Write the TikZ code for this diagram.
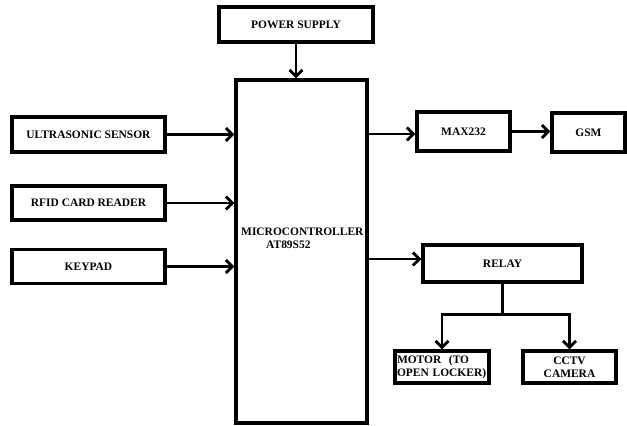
\documentclass[tikz,border=0pt]{standalone}
\usepackage{fontspec}
\setmainfont{Liberation Serif}
\usetikzlibrary{arrows.meta}
\begin{document}
\begin{tikzpicture}[x=1bp,y=-1bp,
  blk/.style={draw, line width=3.2bp, inner sep=0pt, font=\fontsize{11.5}{13}\selectfont\bfseries, align=center},
  conn/.style={line width=2.8bp, -{Straight Barb[length=6.5bp,width=13bp]}},
  wire/.style={line width=2.8bp}]
\useasboundingbox[fill=white] (0,0) rectangle (627,425);
\node[blk, minimum width=154bp, minimum height=35bp] (power) at (296,24.5) {POWER SUPPLY};
\node[blk, minimum width=131bp, minimum height=343bp] (mcu) at (301.5,251.5) {};
\node[font=\fontsize{11.5}{13}\selectfont\bfseries, align=left, anchor=west, inner sep=0pt] (mcutext) at (241,238.5) {MICROCONTROLLER\\\hspace*{25bp}AT89S52};
\node[blk, minimum width=153bp, minimum height=35bp] (ultra) at (88.5,134.5) {ULTRASONIC SENSOR};
\node[blk, minimum width=153bp, minimum height=34bp] (rfid) at (88.5,203) {RFID CARD READER};
\node[blk, minimum width=153bp, minimum height=34bp] (keypad) at (88.5,266.5) {KEYPAD};
\node[blk, minimum width=93bp, minimum height=39bp] (max) at (463.5,131.5) {MAX232};
\node[blk, minimum width=73bp, minimum height=39bp] (gsm) at (588.5,132.5) {GSM};
\node[blk, minimum width=159bp, minimum height=37bp] (relay) at (502.5,263.5) {RELAY};
\node[blk, minimum width=94bp, minimum height=32bp, align=left, text width=90bp] (motor) at (442,367) {MOTOR\ \ (TO\\OPEN LOCKER)};
\node[blk, minimum width=93bp, minimum height=32bp] (cctv) at (569.5,367) {CCTV\\CAMERA};
\draw[conn] (power.south) -- (mcu.north -| power.south);
\draw[conn] (ultra.east) -- (ultra.east -| mcu.west);
\draw[conn] (rfid.east) -- (rfid.east -| mcu.west);
\draw[conn] (keypad.east) -- (keypad.east -| mcu.west);
\draw[conn] ([yshift=-2.5bp]max.west -| mcu.east) -- ([yshift=-2.5bp]max.west);
\draw[conn] (max.east) -- (max.east -| gsm.west);
\draw[conn] ([yshift=4.5bp]relay.west -| mcu.east) -- ([yshift=4.5bp]relay.west);
\coordinate (split) at ([yshift=-31bp]relay.south);
\draw[wire] (relay.south) -- (split);
\draw[conn] (split) -| (motor.north);
\draw[conn] (split) -| (cctv.north);
\end{tikzpicture}
\end{document}
